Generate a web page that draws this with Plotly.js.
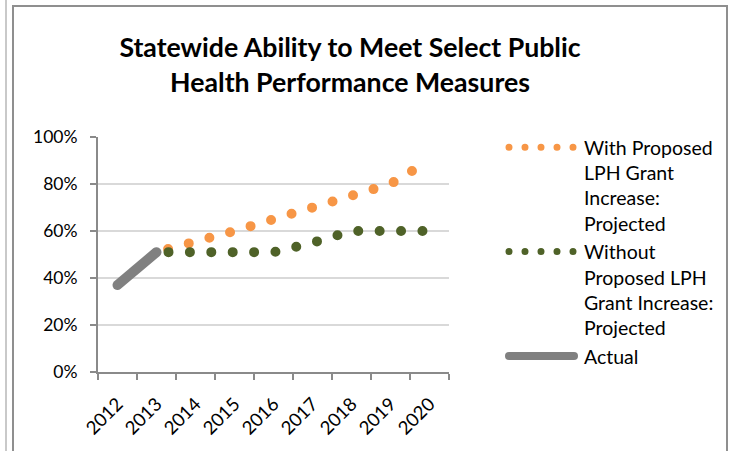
<!DOCTYPE html>
<html>
<head>
<meta charset="utf-8">
<script src="https://cdn.plot.ly/plotly-3.0.1.min.js"></script>
<style>
  html, body { margin: 0; padding: 0; background: #fff; width: 731px; height: 451px; overflow: hidden; }
  #chart { position: absolute; left: 0; top: 0; width: 731px; height: 451px; }
  .frame-outer { position: absolute; left: 5px; top: 0; width: 2px; height: 451px; background: #c9c9c9; }
  .frame { position: absolute; left: 12px; top: 5px; width: 712px; height: 460px;
           border-left: 2px solid #8f8f8f; border-top: 2px solid #8f8f8f; border-right: 2px solid #8f8f8f; }
  .js-line { stroke-linecap: round !important; stroke-linejoin: round !important; }
</style>
</head>
<body>
<div id="chart"></div>
<div class="frame-outer"></div>
<div class="frame"></div>
<script>
// ---- data ----
const years = ['2012', '2013', '2014', '2015', '2016', '2017', '2018', '2019', '2020'];
const withIncreaseName = 'With Proposed<br>LPH Grant<br>Increase:<br>Projected';
const withoutIncreaseName = 'Without<br>Proposed LPH<br>Grant Increase:<br>Projected';
const actualName = 'Actual';
const withIncrease = [null, 0.51, 0.55, 0.60, 0.65, 0.70, 0.75, 0.80, 0.90];
const withoutIncrease = [null, 0.51, 0.51, 0.51, 0.51, 0.55, 0.60, 0.60, 0.60];
const actual = [0.37, 0.51, null, null, null, null, null, null, null];
const yTickVals = [0, 0.2, 0.4, 0.6, 0.8, 1.0];

const FONT = 'Lato, "Open Sans", sans-serif';
const AXIS_COLOR = '#8a8a8a';

const traces = [
  { type: 'scatter', mode: 'lines', name: withIncreaseName, x: years, y: withIncrease,
    line: { color: '#f79646', width: 10, dash: '0px,21.4px' } },
  { type: 'scatter', mode: 'lines', name: withoutIncreaseName, x: years, y: withoutIncrease,
    line: { color: '#4f6228', width: 10, dash: '0px,21.4px' } },
  { type: 'scatter', mode: 'lines', name: actualName, x: years, y: actual,
    line: { color: '#808080', width: 10 } }
];

const layout = {
  width: 731, height: 451,
  paper_bgcolor: '#ffffff', plot_bgcolor: '#ffffff',
  margin: { l: 98, r: 282, t: 137, b: 79, pad: 0 },
  font: { family: FONT, color: '#000000' },
  title: {
    text: 'Statewide Ability to Meet Select Public<br>Health Performance Measures',
    font: { family: FONT, size: 26.7, weight: 'bold', color: '#000000' },
    x: 350 / 731, xref: 'container', xanchor: 'center',
    y: 1 - 57 / 451, yref: 'container', yanchor: 'top'
  },
  xaxis: {
    type: 'category', range: [-0.5, 8.5],
    tickson: 'boundaries', ticks: 'outside', ticklen: 6, tickwidth: 1.5, tickcolor: AXIS_COLOR,
    showline: true, linecolor: AXIS_COLOR, linewidth: 2,
    showgrid: false, zeroline: false,
    tickangle: -45, tickfont: { family: FONT, size: 18.5, color: '#000' },
    ticklabelstandoff: 12,
    fixedrange: true
  },
  yaxis: {
    range: [0, 1], tickvals: yTickVals, tickformat: '.0%',
    ticks: 'outside', ticklen: 6, tickwidth: 1.5, tickcolor: AXIS_COLOR,
    showline: true, linecolor: AXIS_COLOR, linewidth: 2,
    showgrid: true, gridcolor: '#d9d9d9', gridwidth: 1.5, zeroline: false,
    tickfont: { family: FONT, size: 17.5, color: '#000' },
    ticklabelstandoff: 9,
    fixedrange: true
  },
  showlegend: true,
  legend: {
    x: 504 / 731, xref: 'container', xanchor: 'left',
    y: 1 - 128 / 451, yref: 'container', yanchor: 'top',
    font: { family: FONT, size: 19.5, color: '#000' },
    valign: 'top', itemwidth: 70, bgcolor: 'rgba(0,0,0,0)', borderwidth: 0,
    traceorder: 'normal', maxheight: 420
  }
};

Plotly.newPlot('chart', traces, layout, { displayModeBar: false, staticPlot: true }).then(function (gd) {
  // dotted line phase like the reference
  gd.querySelectorAll('.scatterlayer .js-line').forEach(function (p) {
    p.style.strokeDashoffset = '9.4px';
  });
  // legend symbols: longer, thinner, dotted at legend scale
  const items = gd.querySelectorAll('.legend .traces');
  items.forEach(function (it, i) {
    const p = it.querySelector('.js-line');
    if (!p) return;
    p.setAttribute('d', 'M5,0h65');
    if (i < 2) {
      p.style.strokeWidth = '7px';
      p.style.strokeDasharray = '0px,16px';
    } else {
      p.style.strokeWidth = '8px';
    }
  });
});
</script>
</body>
</html>
